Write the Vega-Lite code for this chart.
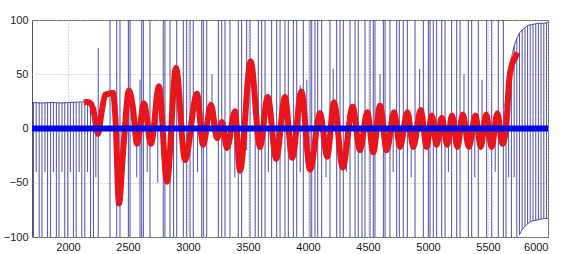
{
  "$schema": "https://vega.github.io/schema/vega-lite/v6.json",
  "width": 516,
  "height": 217,
  "autosize": {"type": "none"},
  "padding": {"left": 32, "top": 20, "right": 13, "bottom": 17},
  "background": "white",
  "config": {
    "view": {"stroke": "#555555", "strokeWidth": 1},
    "axis": {"title": null, "domain": false, "ticks": false, "labelFont": "Liberation Sans", "labelFontSize": 11, "labelColor": "#1a1a1a", "grid": true, "gridColor": "#b8b8b8", "gridDash": [1, 2], "gridWidth": 1}
  },
  "datasets": {
    "spikes": [
      {"x": 1712, "lo": -100, "hi": 24}, {"x": 1735, "lo": -40, "hi": 24}, {"x": 1760, "lo": -100, "hi": 24}, {"x": 1783, "lo": -100, "hi": 24},
      {"x": 1808, "lo": -40, "hi": 24}, {"x": 1830, "lo": -100, "hi": 24}, {"x": 1855, "lo": -100, "hi": 24}, {"x": 1878, "lo": -40, "hi": 24},
      {"x": 1903, "lo": -100, "hi": 24}, {"x": 1925, "lo": -100, "hi": 24}, {"x": 1950, "lo": -40, "hi": 24}, {"x": 1973, "lo": -100, "hi": 24},
      {"x": 1998, "lo": -100, "hi": 24}, {"x": 2020, "lo": -40, "hi": 24}, {"x": 2045, "lo": -100, "hi": 24}, {"x": 2068, "lo": -100, "hi": 24},
      {"x": 2093, "lo": -40, "hi": 24}, {"x": 2115, "lo": -100, "hi": 24}, {"x": 2140, "lo": -100, "hi": 24}, {"x": 2163, "lo": -40, "hi": 24},
      {"x": 2188, "lo": -100, "hi": 24}, {"x": 2212, "lo": -100, "hi": 24}, {"x": 2232, "lo": -45, "hi": 20}, {"x": 2252, "lo": -100, "hi": 74},
      {"x": 2350, "lo": -100, "hi": 100}, {"x": 2406, "lo": -100, "hi": 100}, {"x": 2433, "lo": -100, "hi": 100}, {"x": 2503, "lo": -100, "hi": 100},
      {"x": 2517, "lo": -100, "hi": 100}, {"x": 2573, "lo": -45, "hi": 0}, {"x": 2600, "lo": -100, "hi": 45}, {"x": 2614, "lo": -100, "hi": 100},
      {"x": 2628, "lo": -100, "hi": 100}, {"x": 2660, "lo": -40, "hi": 5}, {"x": 2683, "lo": -100, "hi": 100}, {"x": 2748, "lo": -50, "hi": 30},
      {"x": 2794, "lo": -100, "hi": 100}, {"x": 2808, "lo": -100, "hi": 100}, {"x": 2850, "lo": -100, "hi": 100}, {"x": 2880, "lo": -100, "hi": 35},
      {"x": 2906, "lo": -100, "hi": 100}, {"x": 2961, "lo": -100, "hi": 100}, {"x": 2989, "lo": -100, "hi": 100}, {"x": 3017, "lo": -100, "hi": 100},
      {"x": 3044, "lo": -100, "hi": 100}, {"x": 3080, "lo": -40, "hi": 0}, {"x": 3114, "lo": -100, "hi": 100}, {"x": 3128, "lo": -100, "hi": 100},
      {"x": 3156, "lo": -100, "hi": 100}, {"x": 3200, "lo": 0, "hi": 50}, {"x": 3253, "lo": -100, "hi": 100}, {"x": 3281, "lo": -100, "hi": 100},
      {"x": 3308, "lo": -100, "hi": 100}, {"x": 3350, "lo": -100, "hi": 100}, {"x": 3390, "lo": -45, "hi": 0}, {"x": 3419, "lo": -100, "hi": 100},
      {"x": 3447, "lo": -100, "hi": 100}, {"x": 3489, "lo": -20, "hi": 100}, {"x": 3517, "lo": -100, "hi": 100}, {"x": 3560, "lo": -100, "hi": 20},
      {"x": 3586, "lo": -100, "hi": 100}, {"x": 3614, "lo": -100, "hi": 100}, {"x": 3642, "lo": -100, "hi": 100}, {"x": 3670, "lo": -40, "hi": 0},
      {"x": 3697, "lo": -100, "hi": 100}, {"x": 3739, "lo": -100, "hi": 100}, {"x": 3767, "lo": -100, "hi": 100}, {"x": 3808, "lo": -100, "hi": 100},
      {"x": 3836, "lo": -100, "hi": 100}, {"x": 3878, "lo": -100, "hi": 100}, {"x": 3906, "lo": -100, "hi": 100}, {"x": 3935, "lo": -40, "hi": 40},
      {"x": 3961, "lo": -100, "hi": 100}, {"x": 3990, "lo": 0, "hi": 45}, {"x": 4017, "lo": -100, "hi": 100}, {"x": 4031, "lo": -100, "hi": 100},
      {"x": 4058, "lo": -100, "hi": 100}, {"x": 4081, "lo": -100, "hi": 100}, {"x": 4114, "lo": -100, "hi": 100}, {"x": 4150, "lo": -45, "hi": 0},
      {"x": 4183, "lo": -100, "hi": 100}, {"x": 4210, "lo": 0, "hi": 55}, {"x": 4239, "lo": -100, "hi": 100}, {"x": 4267, "lo": -100, "hi": 100},
      {"x": 4294, "lo": -100, "hi": 100}, {"x": 4320, "lo": -40, "hi": 0}, {"x": 4350, "lo": -100, "hi": 100}, {"x": 4392, "lo": -100, "hi": 100},
      {"x": 4419, "lo": -100, "hi": 100}, {"x": 4450, "lo": -100, "hi": 0}, {"x": 4475, "lo": -100, "hi": 100}, {"x": 4517, "lo": -100, "hi": 100},
      {"x": 4544, "lo": -100, "hi": 100}, {"x": 4558, "lo": -100, "hi": 100}, {"x": 4600, "lo": 0, "hi": 50}, {"x": 4628, "lo": -100, "hi": 100},
      {"x": 4642, "lo": -100, "hi": 100}, {"x": 4683, "lo": -100, "hi": 100}, {"x": 4710, "lo": -40, "hi": 0}, {"x": 4739, "lo": -100, "hi": 100},
      {"x": 4761, "lo": -100, "hi": 100}, {"x": 4794, "lo": -100, "hi": 100}, {"x": 4828, "lo": -100, "hi": 100}, {"x": 4860, "lo": -45, "hi": 0},
      {"x": 4892, "lo": -100, "hi": 100}, {"x": 4930, "lo": 0, "hi": 55}, {"x": 4961, "lo": -100, "hi": 100}, {"x": 5003, "lo": -100, "hi": 100},
      {"x": 5017, "lo": -100, "hi": 100}, {"x": 5044, "lo": -100, "hi": 100}, {"x": 5072, "lo": -100, "hi": 100}, {"x": 5114, "lo": -100, "hi": 100},
      {"x": 5142, "lo": -100, "hi": 100}, {"x": 5170, "lo": -40, "hi": 0}, {"x": 5197, "lo": -100, "hi": 100}, {"x": 5239, "lo": -100, "hi": 100},
      {"x": 5267, "lo": -100, "hi": 100}, {"x": 5300, "lo": 0, "hi": 50}, {"x": 5336, "lo": -100, "hi": 100}, {"x": 5364, "lo": -100, "hi": 100},
      {"x": 5390, "lo": -45, "hi": 0}, {"x": 5419, "lo": -100, "hi": 100}, {"x": 5450, "lo": 0, "hi": 45}, {"x": 5489, "lo": -100, "hi": 100},
      {"x": 5531, "lo": -100, "hi": 100}, {"x": 5560, "lo": -40, "hi": 0}, {"x": 5586, "lo": -100, "hi": 100}, {"x": 5628, "lo": -100, "hi": 100},
      {"x": 5650, "lo": -100, "hi": 30}, {"x": 5672, "lo": -45, "hi": 50}, {"x": 5695, "lo": -100, "hi": 65}, {"x": 5718, "lo": -45, "hi": 76},
      {"x": 5740, "lo": -100, "hi": 83}, {"x": 5762, "lo": -98, "hi": 88}, {"x": 5785, "lo": -93, "hi": 91}, {"x": 5808, "lo": -90, "hi": 93},
      {"x": 5830, "lo": -88, "hi": 95}, {"x": 5852, "lo": -86, "hi": 95.5}, {"x": 5875, "lo": -85, "hi": 96}, {"x": 5898, "lo": -84.5, "hi": 96.5},
      {"x": 5920, "lo": -84, "hi": 97}, {"x": 5942, "lo": -83.5, "hi": 97}, {"x": 5965, "lo": -83, "hi": 97}, {"x": 5988, "lo": -83, "hi": 97.5}
    ],
    "blueline": [
      {"seg": "pre", "x": 1700, "y": 24}, {"seg": "pre", "x": 1780, "y": 23.5}, {"seg": "pre", "x": 1860, "y": 24}, {"seg": "pre", "x": 1940, "y": 23.5},
      {"seg": "pre", "x": 2020, "y": 24}, {"seg": "pre", "x": 2100, "y": 24.5}, {"seg": "pre", "x": 2190, "y": 24},
      {"seg": "top", "x": 5640, "y": 20}, {"seg": "top", "x": 5650, "y": 30}, {"seg": "top", "x": 5672, "y": 50}, {"seg": "top", "x": 5695, "y": 65},
      {"seg": "top", "x": 5718, "y": 76}, {"seg": "top", "x": 5740, "y": 83}, {"seg": "top", "x": 5762, "y": 88}, {"seg": "top", "x": 5785, "y": 91},
      {"seg": "top", "x": 5808, "y": 93}, {"seg": "top", "x": 5830, "y": 95}, {"seg": "top", "x": 5875, "y": 96}, {"seg": "top", "x": 5920, "y": 97},
      {"seg": "top", "x": 5965, "y": 97}, {"seg": "top", "x": 6000, "y": 97.5},
      {"seg": "bottom", "x": 5762, "y": -98}, {"seg": "bottom", "x": 5785, "y": -93}, {"seg": "bottom", "x": 5808, "y": -90}, {"seg": "bottom", "x": 5830, "y": -88},
      {"seg": "bottom", "x": 5852, "y": -86}, {"seg": "bottom", "x": 5875, "y": -85}, {"seg": "bottom", "x": 5920, "y": -84}, {"seg": "bottom", "x": 5965, "y": -83},
      {"seg": "bottom", "x": 6000, "y": -83}
    ],
    "red": [
      {"x": 2133, "y": 24}, {"x": 2160, "y": 24.5}, {"x": 2190, "y": 23}, {"x": 2215, "y": 15}, {"x": 2250, "y": -5}, {"x": 2280, "y": 15},
      {"x": 2310, "y": 31}, {"x": 2340, "y": 32}, {"x": 2375, "y": 33}, {"x": 2395, "y": 10}, {"x": 2425, "y": -69}, {"x": 2460, "y": -20},
      {"x": 2508, "y": 35}, {"x": 2540, "y": 20}, {"x": 2575, "y": -14}, {"x": 2633, "y": 23}, {"x": 2692, "y": -14}, {"x": 2758, "y": 39},
      {"x": 2825, "y": -49}, {"x": 2900, "y": 56}, {"x": 2975, "y": -29}, {"x": 3075, "y": 32}, {"x": 3125, "y": -15}, {"x": 3192, "y": 22},
      {"x": 3242, "y": -9}, {"x": 3283, "y": 6}, {"x": 3325, "y": -18}, {"x": 3392, "y": 16}, {"x": 3433, "y": -39}, {"x": 3522, "y": 62},
      {"x": 3600, "y": -17}, {"x": 3664, "y": 29}, {"x": 3735, "y": -28}, {"x": 3808, "y": 29}, {"x": 3868, "y": -27}, {"x": 3945, "y": 34},
      {"x": 4017, "y": -38}, {"x": 4100, "y": 14}, {"x": 4160, "y": -26}, {"x": 4217, "y": 24}, {"x": 4289, "y": -36}, {"x": 4372, "y": 20},
      {"x": 4433, "y": -20}, {"x": 4494, "y": 15}, {"x": 4544, "y": -22}, {"x": 4600, "y": 21}, {"x": 4656, "y": -20}, {"x": 4717, "y": 15},
      {"x": 4767, "y": -17}, {"x": 4828, "y": 15}, {"x": 4878, "y": -17}, {"x": 4939, "y": 17}, {"x": 4989, "y": -17}, {"x": 5031, "y": 12},
      {"x": 5072, "y": -15}, {"x": 5114, "y": 10}, {"x": 5160, "y": -15}, {"x": 5200, "y": 12}, {"x": 5245, "y": -17}, {"x": 5290, "y": 13},
      {"x": 5340, "y": -17}, {"x": 5395, "y": 12}, {"x": 5440, "y": -17}, {"x": 5485, "y": 13}, {"x": 5530, "y": -17}, {"x": 5578, "y": 14},
      {"x": 5620, "y": -14}, {"x": 5645, "y": -5}, {"x": 5660, "y": 15}, {"x": 5675, "y": 43}, {"x": 5697, "y": 58}, {"x": 5720, "y": 64},
      {"x": 5745, "y": 70}
    ],
    "zero": [{"x": 1700, "y": 0}, {"x": 6000, "y": 0}]
  },
  "layer": [
    {
      "data": {"name": "spikes"},
      "mark": {"type": "rule", "color": "#30309a", "strokeWidth": 1, "opacity": 0.85, "clip": true},
      "encoding": {
        "x": {"field": "x", "type": "quantitative", "scale": {"domain": [1700, 6000], "nice": false, "zero": false},
              "axis": {"values": [2000, 2500, 3000, 3500, 4000, 4500, 5000, 5500, 6000], "format": "d", "labelPadding": 4}},
        "y": {"field": "lo", "type": "quantitative", "scale": {"domain": [-100, 100], "nice": false},
              "axis": {"values": [-100, -50, 0, 50, 100], "format": "d", "labelPadding": 4}},
        "y2": {"field": "hi"}
      }
    },
    {
      "data": {"name": "blueline"},
      "mark": {"type": "line", "color": "#30309a", "strokeWidth": 1, "opacity": 0.85, "clip": true},
      "encoding": {
        "x": {"field": "x", "type": "quantitative"},
        "y": {"field": "y", "type": "quantitative"},
        "detail": {"field": "seg"}
      }
    },
    {
      "data": {"name": "red"},
      "mark": {"type": "line", "color": "#e8161b", "strokeWidth": 6, "interpolate": "monotone", "clip": true},
      "encoding": {
        "x": {"field": "x", "type": "quantitative"},
        "y": {"field": "y", "type": "quantitative"}
      }
    },
    {
      "data": {"name": "zero"},
      "mark": {"type": "line", "color": "#0000e6", "strokeWidth": 6, "clip": true},
      "encoding": {
        "x": {"field": "x", "type": "quantitative"},
        "y": {"field": "y", "type": "quantitative"}
      }
    }
  ]
}
